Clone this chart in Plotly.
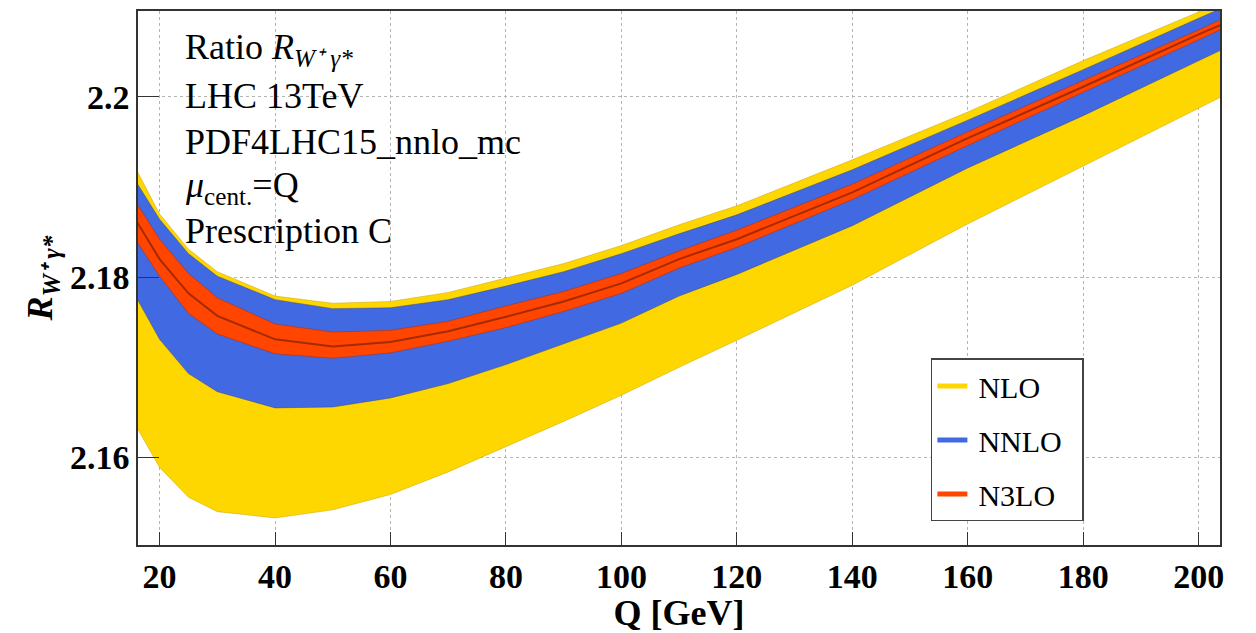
import plotly.graph_objects as go

# Scale Q in GeV
q = [16, 20, 25, 30, 40, 50, 60, 70, 80, 90, 100, 110, 120, 140, 160, 180, 200, 204]

# Scale-variation envelopes of the ratio R_{W+ gamma*}
nlo_hi = [2.1919, 2.1870, 2.1831, 2.1806, 2.1779, 2.1771, 2.1773, 2.1783, 2.1799, 2.1815,
          2.1835, 2.1858, 2.1879, 2.1930, 2.1983, 2.2040, 2.2094, 2.2105]
nlo_lo = [2.1634, 2.1589, 2.1556, 2.1540, 2.1533, 2.1542, 2.1559, 2.1584, 2.1612, 2.1640,
          2.1669, 2.1700, 2.1730, 2.1791, 2.1859, 2.1923, 2.1987, 2.2000]
nnlo_hi = [2.1905, 2.1864, 2.1826, 2.1801, 2.1775, 2.1765, 2.1766, 2.1775, 2.1790, 2.1806,
           2.1826, 2.1848, 2.1869, 2.1919, 2.1974, 2.2030, 2.2087, 2.2098]
nnlo_lo = [2.1777, 2.1731, 2.1693, 2.1673, 2.1655, 2.1656, 2.1666, 2.1682, 2.1703, 2.1726,
           2.1749, 2.1779, 2.1803, 2.1857, 2.1921, 2.1979, 2.2040, 2.2052]
n3lo_hi = [2.1882, 2.1842, 2.1804, 2.1777, 2.1748, 2.1739, 2.1741, 2.1751, 2.1768, 2.1784,
           2.1804, 2.1829, 2.1852, 2.1903, 2.1961, 2.2018, 2.2074, 2.2086]
n3lo_lo = [2.1840, 2.1801, 2.1760, 2.1737, 2.1715, 2.1710, 2.1716, 2.1729, 2.1744, 2.1762,
           2.1782, 2.1810, 2.1833, 2.1886, 2.1946, 2.2005, 2.2063, 2.2075]
n3lo_central = [2.1862, 2.1820, 2.1782, 2.1757, 2.1731, 2.1723, 2.1728, 2.1740, 2.1756, 2.1773,
                2.1793, 2.1820, 2.1842, 2.1894, 2.1954, 2.2011, 2.2069, 2.2080]

x_ticks = [20, 40, 60, 80, 100, 120, 140, 160, 180, 200]
y_ticks = [2.16, 2.18, 2.2]
y_tick_text = ["<b>2.16</b>", "<b>2.18</b>", "<b>2.2</b>"]
x_tick_text = [f"<b>{v}</b>" for v in x_ticks]

info_lines = [
    "Ratio <i>R</i><sub><i>W⁺ γ*</i></sub>",
    "LHC 13TeV",
    "PDF4LHC15_nnlo_mc",
    "<i>μ</i><sub>cent.</sub>=Q",
    "Prescription C",
]

bands = [
    ("NLO", nlo_lo, nlo_hi, "#FFD700", "rgba(200,160,0,0.6)"),
    ("NNLO", nnlo_lo, nnlo_hi, "#4169E1", "rgba(60,70,120,0.6)"),
    ("N3LO", n3lo_lo, n3lo_hi, "#FF4500", "rgba(170,40,0,0.6)"),
]

SERIF = "Liberation Serif"

fig = go.Figure()

for name, lo, hi, color, edge in bands:
    fig.add_trace(go.Scatter(x=q, y=lo, mode="lines", line=dict(color=edge, width=0.8),
                             showlegend=False, hoverinfo="skip"))
    fig.add_trace(go.Scatter(x=q, y=hi, mode="lines", line=dict(color=edge, width=0.8),
                             fill="tonexty", fillcolor=color, showlegend=False, hoverinfo="skip"))

fig.add_trace(go.Scatter(x=q, y=n3lo_central, mode="lines",
                         line=dict(color="#A52A00", width=2), showlegend=False))

# legend swatches (thin spaces pad the labels inside the frame)
for name, lo, hi, color, edge in bands:
    fig.add_trace(go.Scatter(x=[None], y=[None], mode="lines", name="\u2009" + name + "\u2002",
                             line=dict(color=color, width=5), legendgroup=name))

info_y = [0.928, 0.840, 0.754, 0.669, 0.588]
for txt, yy in zip(info_lines, info_y):
    fig.add_annotation(text=txt, xref="paper", yref="paper",
                       x=0.042, y=yy,
                       xanchor="left", yanchor="middle", showarrow=False,
                       font=dict(family=SERIF, size=36, color="black"))

axis_common = dict(
    showline=True, linecolor="#333333", linewidth=1.5, mirror=True,
    showgrid=True, gridcolor="#b5b5b5", griddash="dot", gridwidth=1,
    ticks="inside", tickcolor="#333333", tickwidth=1.3,
    zeroline=False,
    tickfont=dict(family=SERIF, size=34, color="black"),
)

fig.update_xaxes(range=[16.26, 203.7], tickvals=x_ticks, ticktext=x_tick_text, ticklen=13,
                 title=dict(text="<b>Q [GeV]</b>", font=dict(family=SERIF, size=36, color="black"),
                            standoff=4),
                 **axis_common)
fig.update_yaxes(range=[2.1503, 2.2095], tickvals=y_ticks, ticktext=y_tick_text, ticklen=21,
                 title=dict(text="<b><i>R</i><sub><i>W⁺ γ*</i></sub></b>",
                            font=dict(family=SERIF, size=36, color="black"),
                            standoff=6),
                 **axis_common)

fig.update_layout(
    width=1256, height=633,
    margin=dict(l=138, r=36, t=9, b=83),
    plot_bgcolor="white", paper_bgcolor="white",
    font=dict(family=SERIF, color="black"),
    legend=dict(x=0.7328, y=0.3494, xanchor="left", yanchor="top",
                bgcolor="white", bordercolor="#444444", borderwidth=1.5,
                font=dict(family=SERIF, size=30, color="black"),
                tracegroupgap=12, itemwidth=30),
)

fig.write_html("out.html")
